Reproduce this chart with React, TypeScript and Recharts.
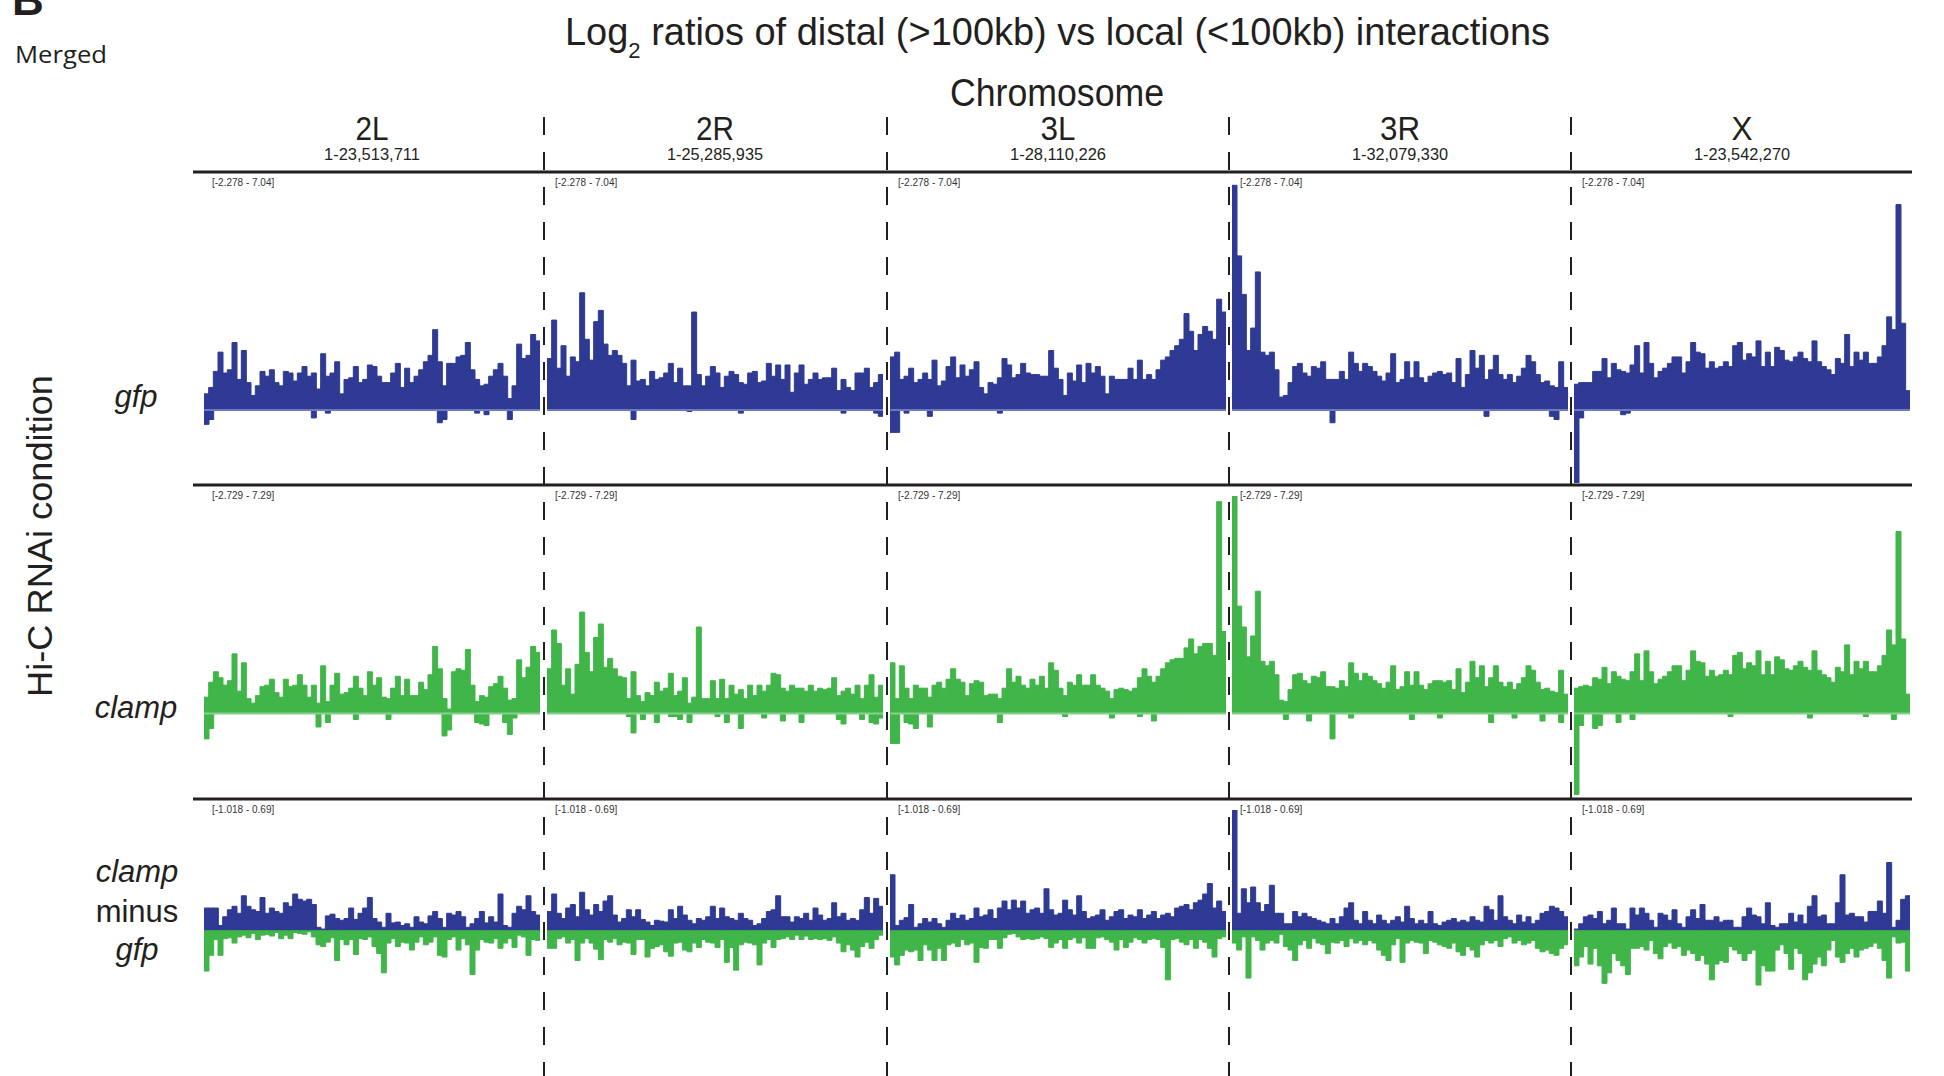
import React from 'react';
import { BarChart, Bar, XAxis, YAxis, ReferenceLine } from 'recharts';

// chromosome arms, left to right
const chromNames = ['2L', '2R', '3L', '3R', 'X'];
const chromSpans = ['1-23,513,711', '1-25,285,935', '1-28,110,226', '1-32,079,330', '1-23,542,270'];

// data range of each track [min, max]
const gfpRange = [-2.278, 7.04];
const clampRange = [-2.729, 7.29];
const diffRange = [-1.018, 0.69];

// gfp RNAi, log2 distal/local, 72 bins per arm
const gfp2L = [0.5, 0.7, 1.2, 1.8, 1.15, 1.25, 2.1, 0.95, 1.85, 0.85, 0.45, 0.75, 1.2, 1.05, 1.25, 0.85, 0.75, 1.2, 1.15, 0.9, 1.15, 1.35, 1.05, 1.15, 0.65, 1.75, 1.05, 1.15, 1.5, 0.5, 0.95, 1.0, 1.35, 0.85, 0.95, 1.4, 1.35, 1.05, 0.85, 0.85, 1.15, 1.45, 0.7, 1.3, 0.85, 1.05, 1.25, 1.5, 1.7, 2.5, 1.5, 0.75, 1.45, 1.45, 1.65, 1.7, 2.1, 1.25, 0.95, 0.75, 0.8, 1.05, 1.25, 1.45, 1.05, 0.35, 0.75, 2.05, 1.6, 1.7, 2.35, 2.15];
const gfp2R = [1.6, 2.8, 1.3, 2.0, 1.05, 1.65, 1.5, 3.65, 2.2, 1.55, 2.75, 3.1, 2.05, 1.7, 1.85, 1.7, 1.45, 0.75, 1.55, 0.9, 0.95, 0.75, 1.2, 0.95, 1.0, 1.15, 1.45, 0.85, 1.3, 0.75, 0.75, 3.05, 1.1, 0.75, 1.05, 1.35, 1.15, 0.7, 1.05, 1.2, 1.1, 0.85, 0.8, 1.15, 1.2, 0.85, 0.9, 1.45, 1.05, 1.4, 0.95, 1.4, 0.55, 1.15, 1.4, 0.8, 0.95, 1.15, 0.95, 1.0, 1.0, 1.3, 0.6, 0.95, 0.7, 0.6, 1.15, 1.15, 1.3, 0.7, 0.85, 1.1];
const gfp3L = [1.65, 1.8, 0.95, 1.05, 1.3, 0.85, 0.95, 1.15, 0.95, 1.55, 0.75, 0.9, 1.35, 1.65, 1.0, 1.4, 1.05, 1.25, 1.5, 0.7, 0.5, 0.85, 0.8, 1.0, 1.6, 1.4, 1.0, 1.1, 1.45, 1.15, 1.1, 1.1, 1.05, 1.05, 1.85, 1.3, 0.95, 0.45, 1.15, 0.9, 1.4, 0.85, 1.45, 1.15, 1.35, 1.05, 0.5, 1.05, 0.95, 0.95, 0.95, 1.3, 0.95, 1.55, 0.95, 1.1, 0.95, 1.25, 1.55, 1.65, 1.85, 2.0, 2.2, 3.0, 2.45, 1.85, 2.35, 2.6, 2.45, 2.2, 3.45, 3.05];
const gfp3R = [7.0, 4.8, 3.6, 1.85, 2.55, 4.3, 1.8, 1.7, 1.8, 1.25, 0.4, 0.45, 0.85, 1.35, 1.45, 1.15, 1.05, 1.35, 1.3, 1.5, 0.95, 0.95, 0.95, 1.2, 0.95, 1.8, 1.45, 1.2, 1.45, 1.35, 1.2, 1.05, 0.9, 1.15, 1.75, 0.85, 0.95, 1.5, 1.0, 1.5, 1.0, 0.85, 1.05, 1.15, 1.2, 1.1, 1.15, 0.85, 1.6, 0.7, 1.1, 1.85, 1.3, 1.7, 0.95, 1.25, 1.7, 1.1, 0.95, 1.1, 0.85, 1.05, 1.3, 1.7, 1.5, 1.1, 0.85, 0.9, 0.75, 0.7, 1.5, 0.7];
const gfpX = [0.8, 0.85, 0.85, 0.85, 1.2, 1.2, 1.6, 1.0, 1.45, 1.25, 1.2, 1.15, 1.4, 2.0, 1.15, 2.1, 1.45, 1.0, 1.2, 1.3, 1.45, 1.65, 1.65, 1.15, 1.5, 2.1, 1.8, 1.75, 1.3, 1.5, 1.3, 1.35, 1.5, 1.35, 2.0, 2.1, 1.55, 1.75, 1.65, 2.15, 1.35, 1.8, 1.35, 1.95, 1.85, 1.55, 1.5, 1.65, 1.8, 1.6, 1.5, 2.15, 1.5, 1.35, 1.25, 1.1, 1.6, 1.45, 2.35, 1.35, 1.8, 1.55, 1.8, 1.45, 1.45, 1.65, 2.0, 2.9, 2.5, 6.4, 2.7, 0.6];

// gfp bins dipping below zero: [bin, value]
const gfpDips2L = [[0, -0.45], [1, -0.3], [23, -0.25], [26, -0.1], [50, -0.4], [51, -0.3], [58, -0.1], [60, -0.15], [65, -0.3]];
const gfpDips2R = [[18, -0.3], [30, -0.05], [41, -0.1], [63, -0.1], [70, -0.1], [71, -0.2]];
const gfpDips3L = [[0, -0.7], [1, -0.7], [3, -0.1], [8, -0.2], [23, -0.1]];
const gfpDips3R = [[21, -0.4], [54, -0.2], [68, -0.2], [69, -0.3]];
const gfpDipsX = [[0, -2.27], [1, -0.25], [10, -0.15], [11, -0.1]];

// clamp RNAi, log2 distal/local
const clamp2L = [0.55, 1.05, 1.4, 1.2, 0.95, 1.1, 2.0, 0.75, 1.7, 0.5, 0.35, 0.6, 0.9, 0.95, 1.15, 0.7, 0.55, 1.15, 0.9, 0.95, 1.3, 0.95, 0.55, 0.95, 0.35, 1.6, 0.4, 0.95, 1.35, 0.65, 0.7, 0.85, 1.25, 0.85, 0.6, 1.4, 0.95, 1.2, 0.55, 0.5, 0.85, 1.25, 0.6, 1.15, 0.6, 0.6, 1.05, 0.8, 1.3, 2.25, 1.5, 0.5, 0.15, 1.4, 1.5, 1.45, 2.15, 0.95, 0.4, 0.6, 0.55, 0.9, 1.0, 1.25, 0.85, 0.45, 0.5, 1.8, 1.2, 1.55, 2.25, 2.05];
const clamp2R = [1.5, 2.8, 2.35, 0.95, 1.5, 0.65, 1.65, 3.4, 2.05, 1.4, 2.55, 3.0, 1.55, 1.85, 1.5, 1.25, 1.2, 0.5, 1.4, 0.6, 0.4, 0.7, 0.6, 1.05, 0.75, 0.85, 1.35, 0.6, 0.75, 1.2, 0.35, 0.55, 2.9, 0.5, 0.5, 1.1, 0.5, 1.15, 0.5, 0.95, 0.65, 0.8, 0.5, 0.95, 0.6, 0.95, 0.75, 0.95, 1.35, 1.3, 0.85, 0.75, 0.95, 0.85, 0.85, 0.75, 0.95, 0.75, 0.85, 0.8, 0.85, 1.2, 0.6, 0.75, 0.85, 0.65, 0.95, 0.5, 0.95, 1.3, 0.55, 0.95];
const clamp3L = [1.7, 0.5, 1.6, 0.85, 0.5, 0.95, 0.85, 0.85, 0.55, 0.95, 1.05, 0.85, 1.15, 1.5, 1.15, 1.05, 0.6, 1.0, 1.1, 1.05, 0.6, 0.65, 0.65, 0.5, 0.85, 1.5, 1.05, 1.25, 0.95, 0.85, 1.15, 0.95, 1.25, 0.85, 1.7, 1.45, 0.85, 0.6, 1.05, 0.95, 1.3, 0.95, 0.95, 1.3, 0.95, 0.85, 0.75, 0.5, 0.8, 0.85, 0.8, 0.75, 0.85, 1.2, 1.5, 1.25, 1.05, 1.25, 1.5, 1.7, 1.8, 1.85, 1.85, 2.2, 2.5, 2.0, 2.25, 2.35, 2.35, 1.95, 7.1, 2.75];
const clamp3R = [7.29, 3.6, 2.9, 1.9, 2.6, 4.1, 1.75, 1.6, 1.75, 1.3, 0.45, 0.4, 0.8, 1.3, 1.35, 1.1, 1.0, 1.25, 1.2, 1.4, 0.9, 0.9, 0.85, 1.1, 0.9, 1.7, 1.35, 1.1, 1.35, 1.25, 1.1, 1.0, 0.85, 1.05, 1.6, 0.8, 0.9, 1.4, 0.95, 1.4, 0.95, 0.8, 1.0, 1.1, 1.1, 1.05, 1.1, 0.8, 1.5, 0.7, 1.05, 1.75, 1.2, 1.6, 0.9, 1.2, 1.6, 1.05, 0.9, 1.05, 0.8, 1.0, 1.2, 1.6, 1.45, 1.05, 0.8, 0.85, 0.75, 0.7, 1.45, 0.65];
const clampX = [0.85, 0.9, 0.95, 0.9, 1.2, 1.15, 1.55, 1.0, 1.4, 1.25, 1.15, 1.1, 1.4, 2.0, 1.1, 2.1, 1.4, 1.0, 1.15, 1.25, 1.4, 1.6, 1.6, 1.1, 1.45, 2.1, 1.75, 1.7, 1.25, 1.45, 1.25, 1.3, 1.45, 1.3, 1.95, 2.05, 1.5, 1.7, 1.6, 2.1, 1.3, 1.75, 1.3, 1.9, 1.8, 1.5, 1.45, 1.6, 1.75, 1.55, 1.45, 2.1, 1.45, 1.3, 1.2, 1.05, 1.55, 1.4, 2.3, 1.3, 1.75, 1.5, 1.75, 1.4, 1.4, 1.6, 1.95, 2.8, 2.3, 6.1, 2.5, 0.65];

const clampDips2L = [[0, -0.85], [1, -0.5], [24, -0.45], [26, -0.3], [32, -0.2], [39, -0.2], [51, -0.75], [52, -0.55], [58, -0.3], [59, -0.35], [60, -0.4], [64, -0.3], [65, -0.7], [66, -0.15]];
const clampDips2R = [[17, -0.1], [18, -0.65], [20, -0.2], [23, -0.3], [26, -0.1], [27, -0.1], [28, -0.2], [30, -0.3], [36, -0.1], [38, -0.3], [41, -0.5], [46, -0.15], [50, -0.25], [54, -0.3], [62, -0.2], [63, -0.35], [67, -0.2], [69, -0.3], [70, -0.35], [71, -0.15]];
const clampDips3L = [[0, -1.0], [1, -1.0], [3, -0.3], [4, -0.35], [5, -0.5], [8, -0.45], [23, -0.3], [37, -0.1], [47, -0.15], [53, -0.1], [56, -0.25]];
const clampDips3R = [[11, -0.2], [16, -0.25], [21, -0.85], [25, -0.15], [38, -0.2], [44, -0.15], [55, -0.3], [60, -0.15], [66, -0.25], [70, -0.3]];
const clampDipsX = [[0, -2.72], [1, -0.4], [4, -0.5], [5, -0.4], [9, -0.3], [12, -0.2], [33, -0.1], [50, -0.15], [62, -0.1], [68, -0.2]];

// clamp minus gfp: highest and lowest value in each bin
const diffUp2L = [0.13, 0.13, 0.13, 0.03, 0.08, 0.12, 0.14, 0.1, 0.2, 0.14, 0.12, 0.11, 0.19, 0.1, 0.13, 0.11, 0.1, 0.16, 0.14, 0.21, 0.18, 0.17, 0.18, 0.15, 0.02, 0.01, 0.085, 0.095, 0.07, 0.06, 0.07, 0.13, 0.065, 0.1, 0.13, 0.19, 0.07, 0.05, 0.02, 0.1, 0.045, 0.05, 0.03, 0.04, 0.02, 0.08, 0.05, 0.04, 0.085, 0.11, 0.07, 0.02, 0.1, 0.09, 0.11, 0.08, 0.02, 0.04, 0.07, 0.11, 0.045, 0.08, 0.05, 0.21, 0.03, 0.02, 0.1, 0.14, 0.12, 0.2, 0.11, 0.09];
const diffDown2L = [-0.23, -0.14, -0.05, -0.14, -0.045, -0.04, -0.07, -0.035, -0.025, -0.04, -0.015, -0.05, -0.025, -0.02, -0.03, -0.01, -0.045, -0.025, -0.045, -0.01, -0.015, -0.02, -0.006, -0.035, -0.08, -0.09, -0.065, -0.04, -0.17, -0.05, -0.08, -0.05, -0.135, -0.045, -0.05, -0.035, -0.09, -0.13, -0.24, -0.07, -0.045, -0.09, -0.065, -0.07, -0.11, -0.065, -0.035, -0.08, -0.065, -0.035, -0.14, -0.15, -0.05, -0.035, -0.11, -0.045, -0.08, -0.25, -0.11, -0.05, -0.065, -0.07, -0.045, -0.1, -0.07, -0.045, -0.095, -0.025, -0.035, -0.14, -0.05, -0.055];
const diffUp2R = [0.11, 0.21, 0.1, 0.07, 0.13, 0.15, 0.08, 0.22, 0.12, 0.09, 0.15, 0.11, 0.17, 0.2, 0.09, 0.05, 0.07, 0.12, 0.08, 0.12, 0.065, 0.05, 0.03, 0.06, 0.055, 0.05, 0.12, 0.07, 0.14, 0.09, 0.06, 0.04, 0.07, 0.06, 0.08, 0.14, 0.07, 0.13, 0.08, 0.07, 0.06, 0.1, 0.07, 0.06, 0.03, 0.04, 0.07, 0.11, 0.12, 0.2, 0.08, 0.08, 0.05, 0.08, 0.07, 0.1, 0.06, 0.13, 0.09, 0.06, 0.07, 0.16, 0.08, 0.1, 0.06, 0.07, 0.06, 0.12, 0.19, 0.1, 0.185, 0.14];
const diffDown2R = [-0.1, -0.1, -0.045, -0.035, -0.07, -0.05, -0.17, -0.07, -0.045, -0.07, -0.105, -0.165, -0.05, -0.065, -0.045, -0.08, -0.065, -0.07, -0.135, -0.05, -0.05, -0.15, -0.1, -0.09, -0.08, -0.12, -0.145, -0.07, -0.065, -0.11, -0.12, -0.07, -0.095, -0.05, -0.065, -0.07, -0.095, -0.05, -0.18, -0.095, -0.225, -0.08, -0.065, -0.07, -0.08, -0.195, -0.07, -0.05, -0.095, -0.05, -0.045, -0.035, -0.05, -0.025, -0.05, -0.03, -0.05, -0.045, -0.05, -0.045, -0.055, -0.035, -0.07, -0.12, -0.08, -0.11, -0.15, -0.09, -0.065, -0.1, -0.05, -0.025];
const diffUp3L = [0.32, 0.03, 0.06, 0.075, 0.15, 0.02, 0.04, 0.07, 0.05, 0.07, 0.04, 0.02, 0.06, 0.1, 0.07, 0.09, 0.06, 0.07, 0.13, 0.08, 0.09, 0.12, 0.07, 0.13, 0.17, 0.12, 0.175, 0.13, 0.17, 0.1, 0.12, 0.13, 0.1, 0.24, 0.12, 0.09, 0.1, 0.175, 0.12, 0.09, 0.2, 0.11, 0.07, 0.08, 0.09, 0.12, 0.06, 0.08, 0.11, 0.12, 0.07, 0.09, 0.08, 0.12, 0.07, 0.09, 0.11, 0.07, 0.09, 0.1, 0.08, 0.13, 0.14, 0.15, 0.12, 0.16, 0.175, 0.21, 0.27, 0.13, 0.17, 0.11];
const diffDown3L = [-0.15, -0.195, -0.14, -0.11, -0.12, -0.11, -0.17, -0.08, -0.11, -0.17, -0.1, -0.17, -0.08, -0.07, -0.09, -0.05, -0.08, -0.07, -0.18, -0.095, -0.1, -0.05, -0.05, -0.1, -0.04, -0.02, -0.015, -0.035, -0.05, -0.045, -0.05, -0.045, -0.035, -0.045, -0.095, -0.07, -0.05, -0.1, -0.05, -0.04, -0.07, -0.04, -0.1, -0.1, -0.04, -0.035, -0.05, -0.065, -0.11, -0.05, -0.095, -0.065, -0.04, -0.05, -0.07, -0.05, -0.045, -0.05, -0.095, -0.28, -0.05, -0.045, -0.065, -0.08, -0.05, -0.1, -0.05, -0.065, -0.1, -0.15, -0.045, -0.035];
const diffUp3R = [0.69, 0.1, 0.24, 0.16, 0.25, 0.16, 0.11, 0.15, 0.26, 0.1, 0.1, 0.04, 0.04, 0.11, 0.08, 0.1, 0.08, 0.07, 0.06, 0.05, 0.04, 0.07, 0.04, 0.08, 0.13, 0.16, 0.06, 0.04, 0.11, 0.06, 0.04, 0.09, 0.06, 0.04, 0.06, 0.08, 0.05, 0.14, 0.07, 0.04, 0.06, 0.04, 0.11, 0.04, 0.03, 0.05, 0.06, 0.07, 0.05, 0.06, 0.05, 0.08, 0.06, 0.05, 0.14, 0.12, 0.06, 0.2, 0.08, 0.06, 0.04, 0.09, 0.05, 0.08, 0.04, 0.06, 0.1, 0.11, 0.14, 0.13, 0.11, 0.08];
const diffDown3R = [-0.07, -0.11, -0.035, -0.27, -0.035, -0.055, -0.11, -0.07, -0.055, -0.07, -0.02, -0.09, -0.11, -0.17, -0.08, -0.055, -0.1, -0.045, -0.07, -0.08, -0.13, -0.065, -0.07, -0.055, -0.09, -0.045, -0.07, -0.055, -0.08, -0.055, -0.07, -0.11, -0.14, -0.17, -0.08, -0.045, -0.18, -0.07, -0.055, -0.065, -0.07, -0.13, -0.055, -0.065, -0.08, -0.09, -0.1, -0.07, -0.12, -0.14, -0.09, -0.11, -0.15, -0.08, -0.055, -0.07, -0.055, -0.09, -0.045, -0.035, -0.07, -0.055, -0.08, -0.07, -0.055, -0.1, -0.12, -0.11, -0.13, -0.14, -0.1, -0.08];
const diffUpX = [0.01, 0.04, 0.08, 0.09, 0.07, 0.11, 0.04, 0.06, 0.13, 0.04, 0.04, 0.01, 0.13, 0.09, 0.13, 0.1, 0.06, 0.02, 0.1, 0.09, 0.06, 0.12, 0.04, 0.02, 0.08, 0.12, 0.07, 0.15, 0.06, 0.06, 0.08, 0.05, 0.06, 0.06, 0.02, 0.02, 0.08, 0.13, 0.09, 0.08, 0.04, 0.16, 0.03, 0.02, 0.04, 0.04, 0.1, 0.05, 0.09, 0.04, 0.14, 0.2, 0.08, 0.09, 0.04, 0.04, 0.16, 0.32, 0.09, 0.1, 0.08, 0.08, 0.05, 0.11, 0.11, 0.17, 0.1, 0.39, 0.02, 0.06, 0.18, 0.2];
const diffDownX = [-0.2, -0.15, -0.09, -0.19, -0.1, -0.2, -0.3, -0.24, -0.13, -0.17, -0.2, -0.25, -0.1, -0.1, -0.09, -0.11, -0.055, -0.13, -0.16, -0.09, -0.07, -0.1, -0.09, -0.14, -0.11, -0.13, -0.17, -0.14, -0.19, -0.28, -0.19, -0.17, -0.18, -0.09, -0.11, -0.13, -0.17, -0.13, -0.11, -0.31, -0.2, -0.23, -0.23, -0.11, -0.08, -0.13, -0.22, -0.1, -0.13, -0.28, -0.24, -0.19, -0.15, -0.2, -0.11, -0.055, -0.15, -0.18, -0.13, -0.1, -0.15, -0.11, -0.1, -0.09, -0.07, -0.1, -0.17, -0.27, -0.035, -0.07, -0.065, -0.23];

// layout
const PANEL_LEFT = [204, 547, 890, 1232, 1574];
const PANEL_W = 336;
const TRACK_TOP = [184, 496, 810];
const TRACK_H = 299;
const RULE_Y = [172, 485, 799];
const DIVIDER_X = [544, 887, 1229, 1571];
const NAME_W = [33, 38, 35, 40, 21];

const BLUE = '#2e3a93';
const GREEN = '#40b549';
const INK = '#231f20';
const SANS = '"Liberation Sans", Arial, Helvetica, sans-serif';

type Row = { bin: number; up: number; down: number };

const withDips = (up: number[], dips: number[][]): Row[] =>
  up.map((v, i) => {
    const d = dips.find((p) => p[0] === i);
    return { bin: i, up: v, down: d ? d[1] : 0 };
  });

const paired = (up: number[], down: number[]): Row[] =>
  up.map((v, i) => ({ bin: i, up: v, down: down[i] }));

const gfpRows = [
  withDips(gfp2L, gfpDips2L),
  withDips(gfp2R, gfpDips2R),
  withDips(gfp3L, gfpDips3L),
  withDips(gfp3R, gfpDips3R),
  withDips(gfpX, gfpDipsX),
];
const clampRows = [
  withDips(clamp2L, clampDips2L),
  withDips(clamp2R, clampDips2R),
  withDips(clamp3L, clampDips3L),
  withDips(clamp3R, clampDips3R),
  withDips(clampX, clampDipsX),
];
const diffRows = [
  paired(diffUp2L, diffDown2L),
  paired(diffUp2R, diffDown2R),
  paired(diffUp3L, diffDown3L),
  paired(diffUp3R, diffDown3R),
  paired(diffUpX, diffDownX),
];

const tracks = [
  { rows: gfpRows, range: gfpRange, up: BLUE, down: BLUE, zero: '#6f79bd' },
  { rows: clampRows, range: clampRange, up: GREEN, down: GREEN, zero: '#88d08d' },
  { rows: diffRows, range: diffRange, up: BLUE, down: GREEN, zero: '' },
];

function Panel({ rows, range, left, top, up, down, zero }: {
  rows: Row[]; range: number[]; left: number; top: number; up: string; down: string; zero: string;
}) {
  return (
    <div style={{ position: 'absolute', left, top, width: PANEL_W, height: TRACK_H }}>
      <BarChart
        width={PANEL_W}
        height={TRACK_H}
        data={rows}
        margin={{ top: 0, right: 0, bottom: 0, left: 0 }}
        barCategoryGap={0}
        barGap={0}
        stackOffset="sign"
      >
        <XAxis dataKey="bin" type="category" hide />
        <YAxis type="number" domain={range} allowDataOverflow hide />
        <Bar dataKey="up" stackId="v" fill={up} stroke={up} strokeWidth={1} isAnimationActive={false} />
        <Bar dataKey="down" stackId="v" fill={down} stroke={down} strokeWidth={1} isAnimationActive={false} />
        {zero && <ReferenceLine y={0} stroke={zero} strokeWidth={2} />}
      </BarChart>
    </div>
  );
}

const fmt = (r: number[]) => `[${r[0]} - ${r[1]}]`;

export default function App() {
  return (
    <div style={{ position: 'fixed', left: 0, top: 0, width: 1944, height: 1076, overflow: 'hidden', background: '#fff' }}>
      {tracks.map((t, ti) =>
        t.rows.map((rows, pi) => (
          <Panel
            key={`${ti}-${pi}`}
            rows={rows}
            range={t.range}
            left={PANEL_LEFT[pi]}
            top={TRACK_TOP[ti]}
            up={t.up}
            down={t.down}
            zero={t.zero}
          />
        ))
      )}
      <svg width={1944} height={1076} style={{ position: 'absolute', left: 0, top: 0, pointerEvents: 'none' }} fontFamily={SANS} fill={INK}>
        <text x={12} y={15} fontSize={44} fontWeight="bold">B</text>
        <text x={15} y={63} fontSize={24} fontFamily='"Open Sans", sans-serif' textLength={92} lengthAdjust="spacingAndGlyphs">Merged</text>

        {/* title with subscripted log base */}
        <text x={565} y={45} fontSize={38} textLength={985} lengthAdjust="spacingAndGlyphs">
          Log
          <tspan dy={13} fontSize={22}>2</tspan>
          <tspan dy={-13}> ratios of distal (&gt;100kb) vs local (&lt;100kb) interactions</tspan>
        </text>
        <text x={1057} y={106} fontSize={38} textAnchor="middle" textLength={214} lengthAdjust="spacingAndGlyphs">Chromosome</text>

        {chromNames.map((n, i) => (
          <g key={n}>
            <text x={PANEL_LEFT[i] + PANEL_W / 2} y={140} fontSize={34} textAnchor="middle" textLength={NAME_W[i]} lengthAdjust="spacingAndGlyphs">{n}</text>
            <text x={PANEL_LEFT[i] + PANEL_W / 2} y={160} fontSize={16} textAnchor="middle" textLength={96} lengthAdjust="spacingAndGlyphs">{chromSpans[i]}</text>
          </g>
        ))}

        {RULE_Y.map((y) => (
          <line key={y} x1={193} x2={1912} y1={y} y2={y} stroke={INK} strokeWidth={3} />
        ))}
        {DIVIDER_X.map((x) => (
          <line key={x} x1={x} x2={x} y1={117} y2={1076} stroke={INK} strokeWidth={2} strokeDasharray="18 17" />
        ))}

        {tracks.map((t, ti) =>
          PANEL_LEFT.map((x) => (
            <text key={`${ti}-${x}`} x={x + 8} y={RULE_Y[ti] + 14} fontSize={10} fill="#333">{fmt(t.range)}</text>
          ))
        )}

        <text transform="translate(52 536) rotate(-90)" fontSize={35} textAnchor="middle" textLength={322} lengthAdjust="spacingAndGlyphs">Hi-C RNAi condition</text>
        <text x={136} y={407} fontSize={31} fontStyle="italic" textAnchor="middle">gfp</text>
        <text x={136} y={718} fontSize={31} fontStyle="italic" textAnchor="middle">clamp</text>
        <text x={137} y={882} fontSize={31} fontStyle="italic" textAnchor="middle">clamp</text>
        <text x={137} y={922} fontSize={31} textAnchor="middle">minus</text>
        <text x={137} y={960} fontSize={31} fontStyle="italic" textAnchor="middle">gfp</text>
      </svg>
    </div>
  );
}
